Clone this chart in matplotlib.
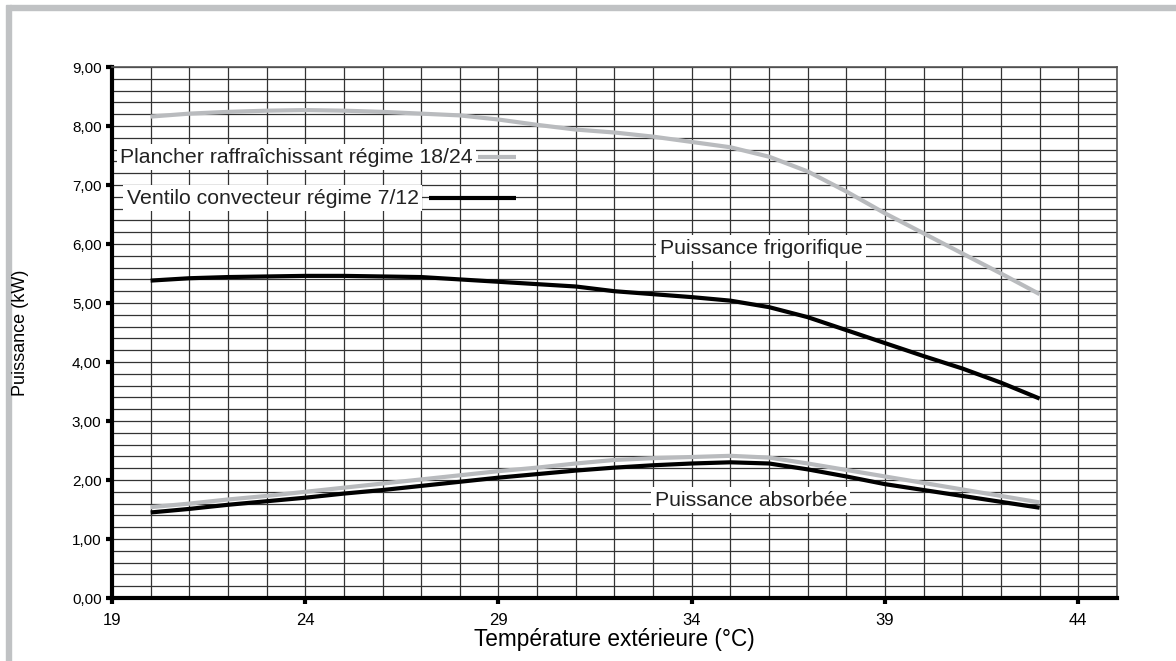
import numpy as np
import matplotlib
matplotlib.use("Agg")
import matplotlib.pyplot as plt
from matplotlib.patches import Rectangle
from matplotlib.ticker import MultipleLocator, FuncFormatter

plt.rcParams["font.family"] = ["Liberation Sans", "DejaVu Sans"]

# ── Data ──────────────────────────────────────────────────────────────────────
temp = [20, 21, 22, 23, 24, 25, 26, 27, 28, 29, 30, 31,
        32, 33, 34, 35, 36, 37, 38, 39, 40, 41, 42, 43]

# Puissance frigorifique
froid_plancher = [8.16, 8.21, 8.24, 8.26, 8.27, 8.26, 8.24, 8.21, 8.18, 8.11, 8.02, 7.94,
                  7.89, 7.82, 7.73, 7.64, 7.48, 7.23, 6.89, 6.52, 6.18, 5.84, 5.50, 5.15]
froid_ventilo = [5.38, 5.42, 5.44, 5.45, 5.46, 5.46, 5.45, 5.44, 5.40, 5.36, 5.32, 5.28,
                 5.20, 5.15, 5.10, 5.04, 4.93, 4.76, 4.54, 4.32, 4.10, 3.89, 3.65, 3.38]

# Puissance absorbée
abs_plancher = [1.54, 1.60, 1.67, 1.73, 1.80, 1.87, 1.94, 2.01, 2.08, 2.15, 2.21, 2.28,
                2.34, 2.37, 2.39, 2.41, 2.38, 2.28, 2.17, 2.06, 1.95, 1.84, 1.73, 1.62]
abs_ventilo = [1.45, 1.51, 1.58, 1.64, 1.70, 1.77, 1.83, 1.90, 1.97, 2.04, 2.10, 2.16,
               2.21, 2.25, 2.28, 2.30, 2.28, 2.18, 2.06, 1.93, 1.83, 1.73, 1.63, 1.53]

x_ticks = [19, 24, 29, 34, 39, 44]

LABEL_PLANCHER = "Plancher raffraîchissant régime 18/24"
LABEL_VENTILO = "Ventilo convecteur régime 7/12"

GRAY = "#b9bbbe"
BLACK = "#000000"

# ── Figure ────────────────────────────────────────────────────────────────────
fig = plt.figure(figsize=(11.76, 6.61), dpi=100)
ax = fig.add_axes([0.0952, 0.0953, 0.8546, 0.8033])

# gray frame (top and left), kept behind everything else
fig.patches.append(Rectangle((10 / 1176, 1 - 10 / 661), 1, 5 / 661,
                             transform=fig.transFigure, color="#c0c2c4", zorder=-1))
fig.patches.append(Rectangle((6 / 1176, 0), 5 / 1176, 1 - 5 / 661,
                             transform=fig.transFigure, color="#c0c2c4", zorder=-1))

ax.set_xlim(19, 45)
ax.set_ylim(0, 9)

ax.set_xticks(x_ticks)
ax.xaxis.set_minor_locator(MultipleLocator(1))
ax.yaxis.set_major_locator(MultipleLocator(1))
ax.yaxis.set_minor_locator(MultipleLocator(0.2))
ax.yaxis.set_major_formatter(FuncFormatter(lambda v, p: f"{v:.2f}".replace(".", ",")))

ax.grid(True, which="both", color="#333333", linewidth=0.9, zorder=0)
ax.set_axisbelow(True)

for side in ["left", "bottom"]:
    ax.spines[side].set_linewidth(3)
    ax.spines[side].set_color("black")
for side in ["top", "right"]:
    ax.spines[side].set_linewidth(1.2)
    ax.spines[side].set_color("#555555")

ax.tick_params(which="major", direction="out", length=4, width=3, labelsize=11, color="black")
ax.tick_params(axis="x", labelsize=12, pad=7)
ax.tick_params(which="minor", length=0)

ax.plot(temp, froid_plancher, color=GRAY, lw=3, solid_capstyle="butt", zorder=3)
ax.plot(temp, froid_ventilo, color=BLACK, lw=3, solid_capstyle="butt", zorder=3)
ax.plot(temp, abs_plancher, color=GRAY, lw=3, solid_capstyle="butt", zorder=3)
ax.plot(temp, abs_ventilo, color=BLACK, lw=3, solid_capstyle="butt", zorder=3)

ax.set_xlabel("Température extérieure (°C)", fontsize=16.3, labelpad=0)
ax.set_ylabel("Puissance (kW)", fontsize=13)
ax.yaxis.set_label_coords(-0.0826, 0.5)

# legend-like labels with line samples
box = dict(facecolor="white", edgecolor="none", pad=2.5)
ax.text(19.22, 7.47, LABEL_PLANCHER, fontsize=15.3, color="#222222",
        ha="left", va="center", bbox=box, zorder=4)
ax.plot([28.46, 29.44], [7.47, 7.47], color=GRAY, lw=3, solid_capstyle="butt", zorder=5)
ax.text(19.38, 6.78, LABEL_VENTILO, fontsize=15.3, color="#222222",
        ha="left", va="center", bbox=box, zorder=4)
ax.plot([27.19, 29.44], [6.78, 6.78], color=BLACK, lw=3, solid_capstyle="butt", zorder=5)

ax.text(35.79, 5.93, "Puissance frigorifique", fontsize=15.3, color="#222222",
        ha="center", va="center", bbox=box, zorder=4)
ax.text(35.53, 1.66, "Puissance absorbée", fontsize=15.3, color="#222222",
        ha="center", va="center", bbox=box, zorder=4)

fig.savefig("out.png", dpi=100)
